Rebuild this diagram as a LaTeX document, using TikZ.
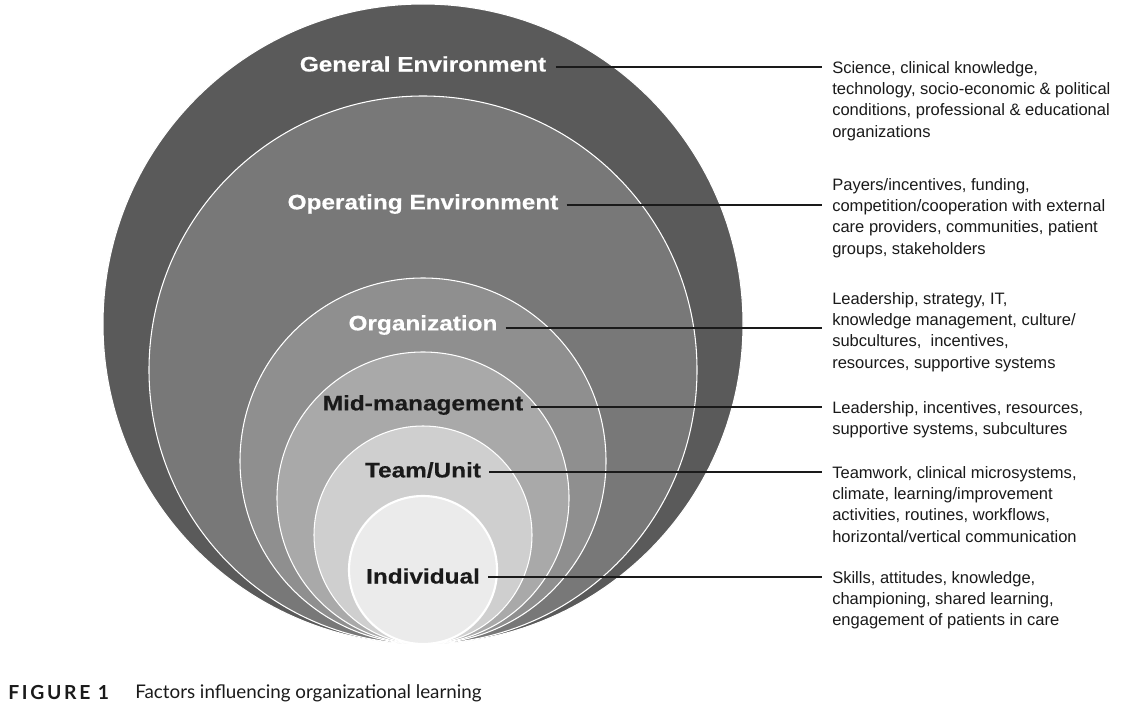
\documentclass[tikz,border=0pt]{standalone}
\usepackage{fontspec}
\setmainfont{Liberation Sans}
\newfontfamily\labfont[FakeStretch=1.16,FakeBold=0.4]{Liberation Sans}
\newfontfamily\capfont{Lato}
\newfontfamily\capfontsp[LetterSpace=14]{Lato}
\definecolor{cGen}{HTML}{5A5A5A}
\definecolor{cOpe}{HTML}{787878}
\definecolor{cOrg}{HTML}{8F8F8F}
\definecolor{cMid}{HTML}{A9A9A9}
\definecolor{cTea}{HTML}{CFCFCF}
\definecolor{cInd}{HTML}{EBEBEB}
\definecolor{ink}{HTML}{1A1A1A}
\tikzset{
  ring/.style={draw=white,line width=0.8pt},
  lab/.style={font=\labfont\bfseries\fontsize{15.75}{18}\selectfont,inner sep=0pt},
  desc/.style={font=\fontsize{12.4}{16}\selectfont,align=left,inner sep=0pt,anchor=north west,text=ink},
  conn/.style={draw=ink,line width=1.7pt}
}
\begin{document}
\begin{tikzpicture}[x=0.75pt,y=-0.75pt]
\fill[white] (0,0) rectangle (1134,706);
\useasboundingbox (0,0) rectangle (1134,706);
% nested circles, tangent at the bottom
\filldraw[ring,fill=cGen] (423,324) circle (320);
\filldraw[ring,fill=cOpe] (423,370) circle (274);
\filldraw[ring,fill=cOrg] (423,461) circle (183);
\filldraw[ring,fill=cMid] (423,498) circle (146);
\filldraw[ring,fill=cTea] (423,535) circle (109);
\filldraw[ring,fill=cInd,line width=1.6pt] (423,570) circle (74);
% labels
\node[lab,text=white] (gen) at (423,64) {General Environment};
\node[lab,text=white] (ope) at (423,204) {Operating Environment};
\node[lab,text=white] (org) at (423,325) {Organization};
\node[lab,text=ink] (mid) at (423,405) {Mid-management};
\node[lab,text=ink] (tea) at (423,470) {Team/Unit};
\node[lab,text=ink] (ind) at (423,576) {Individual};
% connector ends
\coordinate (genR) at (822,67);
\coordinate (opeR) at (822,205);
\coordinate (orgR) at (822,328);
\coordinate (midR) at (822,407);
\coordinate (teaR) at (822,472);
\coordinate (indR) at (822,577);
\draw[conn] ([xshift=7pt]gen.east |- genR) -- (genR);
\draw[conn] ([xshift=6pt]ope.east |- opeR) -- (opeR);
\draw[conn] ([xshift=6pt]org.east |- orgR) -- (orgR);
\draw[conn] ([xshift=6pt]mid.east |- midR) -- (midR);
\draw[conn] ([xshift=6pt]tea.east |- teaR) -- (teaR);
\draw[conn] ([xshift=6pt]ind.east |- indR) -- (indR);
% descriptions
\node[desc] (d1) at (832,61) {Science, clinical knowledge,\\technology, socio-economic \& political\\conditions, professional \& educational\\organizations};
\node[desc] (d2) at (832,178) {Payers/incentives, funding,\\competition/cooperation with external\\care providers, communities, patient\\groups, stakeholders};
\node[desc] (d3) at (832,292) {Leadership, strategy, IT,\\knowledge management, culture/\\subcultures,\ \ incentives,\\resources, supportive systems};
\node[desc] (d4) at (832,401) {Leadership, incentives, resources,\\supportive systems, subcultures};
\node[desc] (d5) at (832,466) {Teamwork, clinical microsystems,\\climate, learning/improvement\\activities, routines, workflows,\\horizontal/vertical communication};
\node[desc] (d6) at (832,571) {Skills, attitudes, knowledge,\\championing, shared learning,\\engagement of patients in care};
% caption
\node[anchor=west,inner sep=0pt,font=\capfontsp\bfseries\fontsize{14.5}{16}\selectfont,text=ink] (fig) at (8,693) {FIGURE 1};
\node[anchor=west,inner sep=0pt,font=\capfont\fontsize{14.1}{16}\selectfont,text=ink] (capt) at (135,693) {Factors influencing organizational learning};
\end{tikzpicture}
\end{document}
